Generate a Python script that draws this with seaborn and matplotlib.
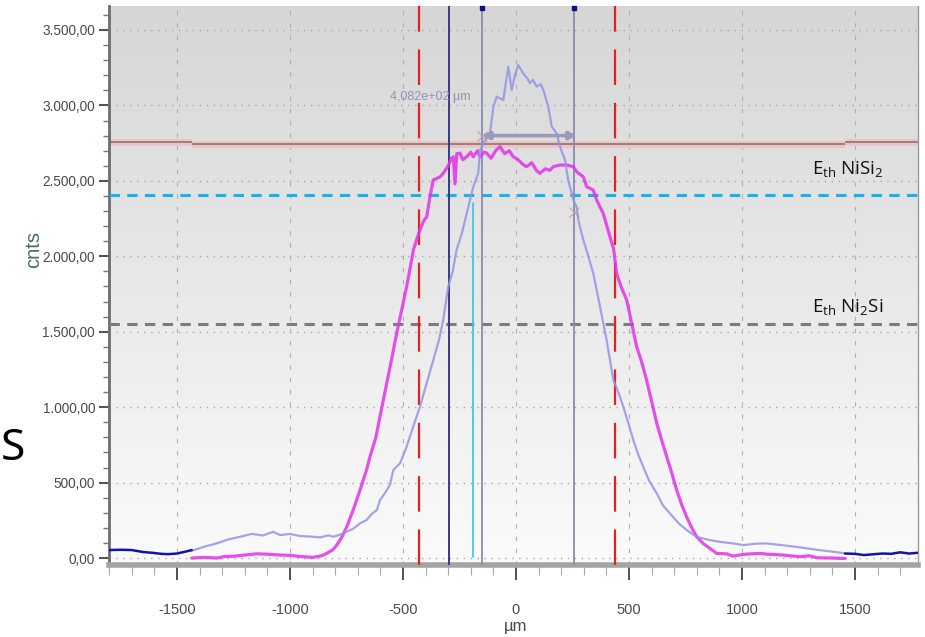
import numpy as np
import pandas as pd
import matplotlib
matplotlib.use("Agg")
import matplotlib.pyplot as plt
from matplotlib.colors import LinearSegmentedColormap
from matplotlib.ticker import FuncFormatter, MultipleLocator
import seaborn as sns

sns.set_style("white")
plt.rcParams["font.family"] = ["Liberation Sans Narrow", "Liberation Sans", "DejaVu Sans"]

# ---- profile data (position in µm, counts) ----
magenta_x = [-1435, -1380, -1325, -1290, -1252, -1200, -1150, -1103, -1044, -1000, -956, -898, -860,
             -838, -810, -793, -770, -749, -720, -690, -660, -646, -620, -602, -572, -550, -528, -505,
             -484, -465, -454, -440, -425, -410, -395, -380, -366, -345, -336, -322, -300, -285, -277,
             -270, -262, -248, -235, -218, -200, -189, -170, -159, -140, -130, -110, -90, -71, -50, -30,
             -12, 10, 30, 47, 70, 90, 106, 130, 150, 165, 195, 224, 254, 269, 298, 313, 342, 357, 386,
             416, 432, 445, 465, 490, 510, 534, 556, 578, 600, 623, 645, 667, 690, 711, 733, 755, 778,
             800, 830, 858, 888, 932, 960, 1010, 1080, 1109, 1180, 1257, 1300, 1330, 1403, 1456]
magenta_y = [0, 5, 0, 10, 12, 20, 28, 26, 20, 18, 10, 5, 15,
             31, 55, 86, 140, 207, 320, 451, 590, 672, 800, 937, 1158, 1320, 1490, 1650,
             1798, 1950, 2042, 2110, 2174, 2230, 2262, 2400, 2506, 2520, 2527, 2550, 2600, 2650, 2660,
             2480, 2680, 2684, 2640, 2660, 2690, 2660, 2700, 2660, 2690, 2684, 2650, 2700, 2727, 2680, 2700,
             2660, 2640, 2610, 2594, 2620, 2570, 2550, 2580, 2570, 2594, 2605, 2605, 2594, 2560, 2527, 2461, 2439, 2373, 2284,
             2130, 2050, 1887, 1800, 1710, 1570, 1401, 1300, 1180, 1040, 893, 780, 672, 560, 451, 355, 274, 200,
             141, 95, 64, 31, 28, 13, 25, 31, 26, 20, 9, 15, 2, 0, -3]

lavender_x = [-1435, -1380, -1325, -1270, -1221, -1170, -1120, -1074, -1044, -1000, -956, -897, -867,
              -830, -808, -780, -764, -749, -720, -690, -661, -640, -616, -602, -580, -558, -543, -513,
              -484, -455, -425, -395, -366, -340, -322, -300, -280, -263, -240, -218, -189, -167, -159,
              -140, -115, -100, -85, -56, -45, -34, -19, -5, 10, 32, 50, 62, 75, 91, 110, 121, 143, 158,
              180, 195, 217, 231, 254, 268, 276, 298, 320, 342, 372, 401, 431, 455, 475, 500, 519, 540,
              563, 590, 623, 650, 681, 720, 755, 800, 858, 900, 961, 1006, 1060, 1109, 1180, 1257, 1330,
              1404, 1456]
lavender_y = [48, 75, 97, 125, 141, 160, 150, 174, 152, 160, 146, 141, 137,
              150, 141, 155, 164, 174, 195, 230, 252, 290, 318, 384, 430, 484, 583, 628,
              738, 870, 1003, 1160, 1312, 1450, 1578, 1798, 1900, 2042, 2150, 2284, 2461, 2550, 2705,
              2760, 2815, 2992, 3058, 3036, 3150, 3257, 3102, 3200, 3268, 3213, 3180, 3147, 3170, 3125, 3140, 3102, 2992, 2859,
              2815, 2727, 2638, 2506, 2373, 2329, 2240, 2108, 2000, 1887, 1666, 1445, 1180, 1090, 1003, 880, 782, 690,
              605, 510, 429, 350, 296, 230, 186, 140, 119, 108, 97, 86, 95, 97, 85, 71, 55,
              42, 31]

navy_left_x = [-1800, -1750, -1700, -1650, -1610, -1570, -1540, -1500, -1470, -1435]
navy_left_y = [53, 55, 53, 40, 35, 28, 26, 30, 40, 53]
navy_right_x = [1456, 1500, 1540, 1580, 1620, 1660, 1700, 1740, 1779]
navy_right_y = [30, 28, 20, 25, 30, 28, 38, 30, 35]

# reference levels and cursors
level_top = 2745          # brown reference line
level_nisi2 = 2405        # E_th NiSi2
level_ni2si = 1550        # E_th Ni2Si
red_cursors = [-428, 440]
navy_cursor = -298
grey_cursors = [-152, 255]
cyan_cursor = -191
width_label = "4,082e+02 µm"

x_ticks = [-1500, -1000, -500, 0, 500, 1000, 1500]
y_ticks = [0, 500, 1000, 1500, 2000, 2500, 3000, 3500]
XMIN, XMAX = -1801, 1779
YMIN, YMAX = -46, 3659

fig = plt.figure(figsize=(9.25, 6.37), dpi=100)
ax = fig.add_axes([109 / 925, 1 - 565 / 637, (918 - 109) / 925, (565 - 6) / 637])

# vertical background gradient of the plot panel
grad = np.linspace(0, 1, 256).reshape(-1, 1)
cmap = LinearSegmentedColormap.from_list("bg", ["#fbfbfb", "#d6d6d6"])
ax.imshow(grad, extent=[XMIN, XMAX, YMIN, YMAX], origin="lower", aspect="auto",
          cmap=cmap, zorder=0, interpolation="bilinear")

# grid
for yv in y_ticks:
    ax.axhline(yv, color="#a8a8a8", lw=1.0, ls=(0, (1, 4)), zorder=1)
for xv in x_ticks:
    ax.axvline(xv, color="#b0b0b0", lw=0.8, ls=(0, (4, 7)), zorder=1)

# brown reference level with halo
seg_x = [[XMIN, -1435], [-1435, 1456], [1456, XMAX]]
seg_y = [level_top + 12, level_top, level_top + 12]
for sx, sy in zip(seg_x, seg_y):
    ax.plot(sx, [sy, sy], color="#e8c6c6", lw=5, solid_capstyle="butt", zorder=2)
    ax.plot(sx, [sy, sy], color="#a47a7a", lw=1.4, solid_capstyle="butt", zorder=2)

# threshold levels
ax.axhline(level_nisi2, color="#1ab2ee", lw=2.2, ls=(0, (3.4, 2.4)), zorder=3)
ax.axhline(level_ni2si, color="#7c7c7c", lw=2.2, ls=(0, (3.4, 2.4)), zorder=3)

# cursors
for xv in red_cursors:
    ax.axvline(xv, color="#e42020", lw=1.6, ls=(0, (16, 8)), zorder=3)
ax.axvline(navy_cursor, color="#3a3a86", lw=1.4, zorder=3)
for xv in grey_cursors:
    ax.axvline(xv, color="#8a8ab6", lw=1.3, zorder=3)
    ax.plot([xv], [YMAX - 10], marker="s", ms=2.5, color="#10108a", clip_on=False, zorder=6)
ax.plot([cyan_cursor, cyan_cursor], [10, 2350], color="#2cc4f6", lw=1.2, zorder=3)

# profiles
df_m = pd.DataFrame({"x": magenta_x, "y": magenta_y})
df_l = pd.DataFrame({"x": lavender_x, "y": lavender_y})
df_nl = pd.DataFrame({"x": navy_left_x, "y": navy_left_y})
df_nr = pd.DataFrame({"x": navy_right_x, "y": navy_right_y})
sns.lineplot(data=df_m, x="x", y="y", ax=ax, color="#e232e8", lw=2.3, alpha=0.85,
             sort=False, estimator=None, zorder=4)
sns.lineplot(data=df_l, x="x", y="y", ax=ax, color="#9494e6", lw=1.6, alpha=0.85,
             sort=False, estimator=None, zorder=5)
sns.lineplot(data=df_nl, x="x", y="y", ax=ax, color="#1414a0", lw=1.8,
             sort=False, estimator=None, zorder=5)
sns.lineplot(data=df_nr, x="x", y="y", ax=ax, color="#1414a0", lw=1.8,
             sort=False, estimator=None, zorder=5)

# width measurement
ax.annotate("", xy=(270, 2800), xytext=(-152, 2800),
            arrowprops=dict(arrowstyle="<|-|>", color="#9a9abc", lw=2.6,
                            mutation_scale=11, shrinkA=0, shrinkB=0), zorder=6)
ax.text(-557, 3056, width_label, color="#9494b2", fontsize=9, va="center", ha="left", zorder=6)
ax.plot([-152, 255], [2800, 2296], ls="none", marker="x", ms=7, mew=0.7, color="#c49a9a", zorder=6)

# threshold labels
ax.text(1308, 2539, r"E$_{\mathregular{th}}$ NiSi$_{\mathregular{2}}$", family=["Open Sans", "DejaVu Sans"],
        fontsize=13.5, color="#111111", ha="left", va="baseline", zorder=7)
ax.text(1312, 1624, r"E$_{\mathregular{th}}$ Ni$_{\mathregular{2}}$Si", family=["Open Sans", "DejaVu Sans"],
        fontsize=13.5, color="#111111", ha="left", va="baseline", zorder=7)

# axes, ticks, labels
ax.set_xlim(XMIN, XMAX)
ax.set_ylim(YMIN, YMAX)
ax.set_xticks(x_ticks)
ax.set_yticks(y_ticks)
ax.xaxis.set_minor_locator(MultipleLocator(100))
ax.yaxis.set_minor_locator(MultipleLocator(100))


def euro_fmt(v, pos):
    s = f"{v:,.2f}"
    return s.replace(",", "#").replace(".", ",").replace("#", ".")


ax.yaxis.set_major_formatter(FuncFormatter(euro_fmt))
ax.xaxis.set_major_formatter(FuncFormatter(lambda v, p: f"{int(v)}"))
ax.tick_params(axis="y", which="major", length=7, width=1.5, color="#555555",
               labelsize=9.8, labelcolor="#4a4a4a", pad=3, left=True)
ax.tick_params(axis="y", which="minor", length=4, width=1.0, color="#777777", left=True)
ax.tick_params(axis="x", which="major", length=11, width=1.2, color="#333333",
               labelsize=10.5, labelcolor="#4a4a4a", pad=16, bottom=True)
ax.tick_params(axis="x", which="minor", length=7, width=0.8, color="#aaaaaa", bottom=True)
ax.set_xlabel("")
ax.set_ylabel("")

ax.spines["top"].set_visible(False)
ax.spines["left"].set_color("#6e6e6e")
ax.spines["left"].set_linewidth(2.0)
ax.spines["bottom"].set_color("#a4a4a4")
ax.spines["bottom"].set_linewidth(4.0)
ax.spines["right"].set_color("#9a9a9a")
ax.spines["right"].set_linewidth(1.0)

fig.text(34 / 925, 1 - 250 / 637, "cnts", rotation=90, color="#4b6c6c", fontsize=14.5,
         ha="center", va="center", family=["Liberation Sans", "DejaVu Sans"])
fig.text(516 / 925, 1 - 627 / 637, "µm", color="#4a4a4a", fontsize=12, ha="center", va="center")
fig.text(0.5 / 925, 1 - 449 / 637, "S", color="#000000", fontsize=32, ha="left", va="center",
         family=["Noto Sans", "DejaVu Sans"], fontstyle="normal", fontweight="normal")

fig.savefig("out.png", dpi=100, facecolor="white")
